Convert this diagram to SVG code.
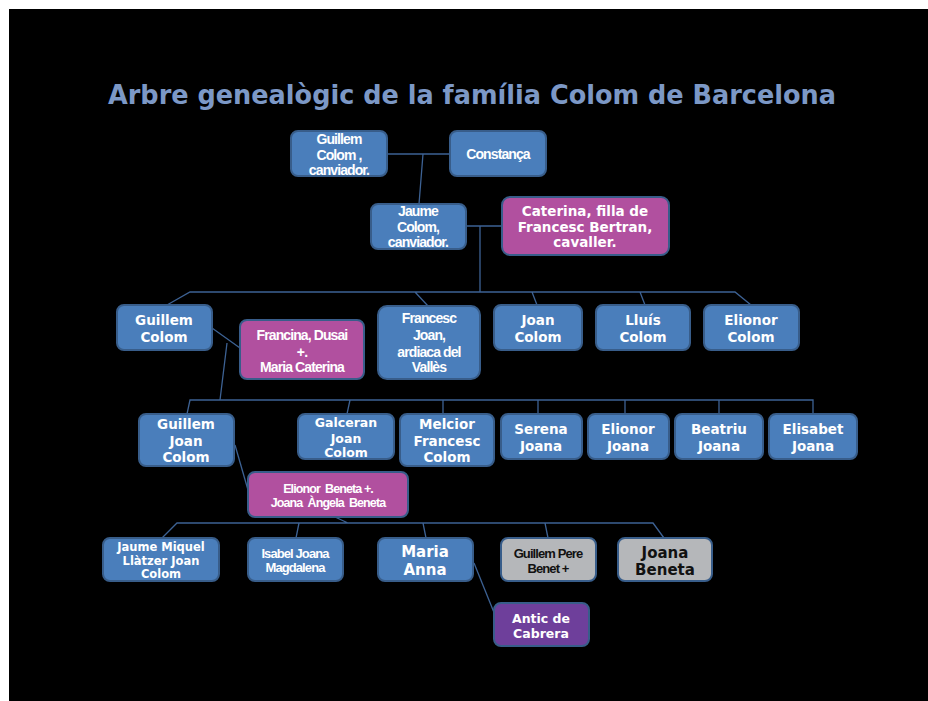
<svg xmlns="http://www.w3.org/2000/svg" width="928" height="701" viewBox="0 0 928 701">
<style>
.bg{fill:#000}
.n rect{stroke:#385d8a;stroke-width:2}
.b rect{fill:#4a7ebb}
.m rect{fill:#b1509f}
.p rect{fill:#6e3f9b}
.g rect{fill:#b5b7ba}
.v{font-family:"DejaVu Sans",Verdana,sans-serif;font-weight:bold;fill:#fff;text-anchor:middle}
.t{font-family:"Liberation Sans",Arial,sans-serif;font-weight:bold;fill:#fff;text-anchor:middle;letter-spacing:-0.9px}
.dk{fill:#111}
#connectors path{fill:none;stroke:#3d6294;stroke-width:1.3}
</style>
<rect class="bg" x="9" y="9" width="919" height="692"/>
<text x="472" y="104" font-family="'DejaVu Sans Condensed','DejaVu Sans',sans-serif" font-stretch="condensed" font-weight="bold" font-size="26" fill="#7c98c6" text-anchor="middle" textLength="728" lengthAdjust="spacingAndGlyphs">Arbre genealògic de la família Colom de Barcelona</text>
<g id="connectors">
<path d="M387 154 H450 M423 154 L419 204"/>
<path d="M466 226 H502 M480 226 V292"/>
<path d="M167 305 L190 292 H735 L751 305 M415 292 L428 306 M532 292 L537 305 M640 292 L645 305"/>
<path d="M212 328 L240 348 M227 343 L220 400"/>
<path d="M187 414 L190 400 H813 V414 M350 400 L347 414 M443 400 V414 M538 400 V414 M625 400 V414 M719 400 V414"/>
<path d="M235 445 L248 490"/>
<path d="M335 517 L348 523 M162 538 L177 523 H653 L664 538 M299 523 L296 538 M423 523 L426 538 M545 523 L548 538"/>
<path d="M474 563 L495 615"/>
</g>
<g id="n1" class="n b"><rect x="291" y="131" width="96" height="45" rx="7"/><text class="t" font-size="14"><tspan x="339" y="144">Guillem</tspan><tspan x="339" y="160">Colom ,</tspan><tspan x="339" y="175">canviador.</tspan></text></g>
<g id="n2" class="n b"><rect x="450" y="131" width="96" height="45" rx="7"/><text class="t" font-size="14" x="498" y="159">Constança</text></g>
<g id="n3" class="n b"><rect x="371" y="204" width="95" height="45" rx="7"/><text class="t" font-size="14"><tspan x="418" y="216">Jaume</tspan><tspan x="418" y="232">Colom,</tspan><tspan x="418" y="247">canviador.</tspan></text></g>
<g id="n4" class="n m"><rect x="502" y="197" width="167" height="58" rx="8"/><text class="v" font-size="13.5"><tspan x="585" y="216">Caterina, filla de</tspan><tspan x="585" y="232">Francesc Bertran,</tspan><tspan x="585" y="247">cavaller.</tspan></text></g>
<g id="n5" class="n b"><rect x="117" y="305" width="95" height="45" rx="7"/><text class="v" font-size="13.5"><tspan x="164" y="325">Guillem</tspan><tspan x="164" y="342">Colom</tspan></text></g>
<g id="n6" class="n m"><rect x="240" y="320" width="124" height="59" rx="7"/><text class="t" font-size="14"><tspan x="302" y="340">Francina, Dusai</tspan><tspan x="302" y="357">+.</tspan><tspan x="302" y="372">Maria Caterina</tspan></text></g>
<g id="n7" class="n b"><rect x="378" y="306" width="102" height="73" rx="9"/><text class="t" font-size="14"><tspan x="429" y="323">Francesc</tspan><tspan x="429" y="340">Joan,</tspan><tspan x="429" y="357">ardiaca del</tspan><tspan x="429" y="372">Vallès</tspan></text></g>
<g id="n8" class="n b"><rect x="494" y="305" width="88" height="45" rx="7"/><text class="v" font-size="13.5"><tspan x="538" y="325">Joan</tspan><tspan x="538" y="342">Colom</tspan></text></g>
<g id="n9" class="n b"><rect x="596" y="305" width="94" height="45" rx="7"/><text class="v" font-size="13.5"><tspan x="643" y="325">Lluís</tspan><tspan x="643" y="342">Colom</tspan></text></g>
<g id="n10" class="n b"><rect x="704" y="305" width="95" height="45" rx="7"/><text class="v" font-size="13.5"><tspan x="751" y="325">Elionor</tspan><tspan x="751" y="342">Colom</tspan></text></g>
<g id="n11" class="n b"><rect x="139" y="414" width="95" height="52" rx="7"/><text class="v" font-size="13.5"><tspan x="186" y="429">Guillem</tspan><tspan x="186" y="446">Joan</tspan><tspan x="186" y="462">Colom</tspan></text></g>
<g id="n12" class="n b"><rect x="298" y="414" width="96" height="45" rx="7"/><text class="v" font-size="12.5"><tspan x="346" y="426.5">Galceran</tspan><tspan x="346" y="442.5">Joan</tspan><tspan x="346" y="456.5">Colom</tspan></text></g>
<g id="n13" class="n b"><rect x="400" y="414" width="94" height="52" rx="7"/><text class="v" font-size="13.5"><tspan x="447" y="429">Melcior</tspan><tspan x="447" y="446">Francesc</tspan><tspan x="447" y="462">Colom</tspan></text></g>
<g id="n14" class="n b"><rect x="501" y="414" width="81" height="45" rx="7"/><text class="v" font-size="13.5"><tspan x="541" y="434">Serena</tspan><tspan x="541" y="451">Joana</tspan></text></g>
<g id="n15" class="n b"><rect x="588" y="414" width="81" height="45" rx="7"/><text class="v" font-size="13.5"><tspan x="628" y="434">Elionor</tspan><tspan x="628" y="451">Joana</tspan></text></g>
<g id="n16" class="n b"><rect x="675" y="414" width="88" height="45" rx="7"/><text class="v" font-size="13.5"><tspan x="719" y="434">Beatriu</tspan><tspan x="719" y="451">Joana</tspan></text></g>
<g id="n17" class="n b"><rect x="769" y="414" width="88" height="45" rx="7"/><text class="v" font-size="13.5"><tspan x="813" y="434">Elisabet</tspan><tspan x="813" y="451">Joana</tspan></text></g>
<g id="n18" class="n m"><rect x="248" y="472" width="160" height="45" rx="7"/><text class="t" font-size="12.5" xml:space="preserve"><tspan x="328" y="493">Elionor  Beneta +.</tspan><tspan x="328" y="507">Joana  Àngela  Beneta</tspan></text></g>
<g id="n19" class="n b"><rect x="103" y="538" width="116" height="43" rx="7"/><text class="v" font-size="11.5"><tspan x="161" y="551">Jaume Miquel</tspan><tspan x="161" y="565">Llàtzer Joan</tspan><tspan x="161" y="578">Colom</tspan></text></g>
<g id="n20" class="n b"><rect x="248" y="538" width="95" height="43" rx="7"/><text class="t" font-size="13"><tspan x="295" y="557.5">Isabel Joana</tspan><tspan x="295" y="571.5">Magdalena</tspan></text></g>
<g id="n21" class="n b"><rect x="378" y="538" width="95" height="43" rx="7"/><text class="v" font-size="15"><tspan x="425" y="556.5">Maria</tspan><tspan x="425" y="574.5">Anna</tspan></text></g>
<g id="n22" class="n g"><rect x="501" y="538" width="95" height="43" rx="7"/><text class="t dk" font-size="13"><tspan x="548" y="557.5">Guillem Pere</tspan><tspan x="548" y="572.5">Benet +</tspan></text></g>
<g id="n23" class="n g"><rect x="618" y="538" width="94" height="43" rx="7"/><text class="v dk" font-size="15"><tspan x="665" y="557.5">Joana</tspan><tspan x="665" y="574.5">Beneta</tspan></text></g>
<g id="n24" class="n p"><rect x="494" y="603" width="95" height="43" rx="7"/><text class="v" font-size="12.5"><tspan x="541" y="622.5">Antic de</tspan><tspan x="541" y="637.5">Cabrera</tspan></text></g>
</svg>
